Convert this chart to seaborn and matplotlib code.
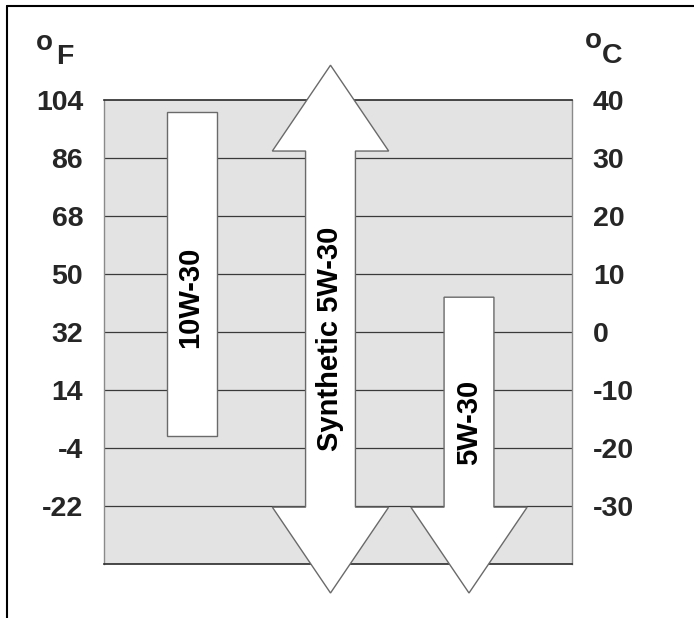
import matplotlib
matplotlib.use("Agg")
import matplotlib.pyplot as plt
from matplotlib.patches import Polygon
from matplotlib.lines import Line2D
import seaborn as sns
import numpy as np

# ---- data ----
oils = ["10W-30", "Synthetic 5W-30", "5W-30"]
low_c = [-18, -45, -45]          # lower usable temperature (deg C)
high_c = [38, 46, 6]             # upper usable temperature (deg C)
open_low = [False, True, True]   # range continues below (arrow head)
open_high = [False, True, False] # range continues above (arrow head)
celsius_ticks = [40, 30, 20, 10, 0, -10, -20, -30]
fahrenheit_labels = ["104", "86", "68", "50", "32", "14", "-4", "-22"]

# ---- styles / layout ----
W, H = 694, 618
sns.set_theme(style="white")
plt.rcParams["font.family"] = ["Liberation Sans", "DejaVu Sans"]
plt.rcParams["font.weight"] = "bold"

fig = plt.figure(figsize=(W / 100, H / 100), dpi=100)
ax_l, ax_r, ax_t, ax_b = 104, 572, 100, 564
ax = fig.add_axes([ax_l / W, 1 - ax_b / H, (ax_r - ax_l) / W, (ax_b - ax_t) / H])
ax.set_facecolor("#e3e3e3")
ax.set_ylim(-40, 40)
px_per_unit = 138.5
ax.set_xlim((ax_l - 192) / px_per_unit, (ax_r - 192) / px_per_unit)

shaft_w = 0.36
head_w = 0.84
head_len = 14.8
edge = "#6a6a6a"
label_y = [6, -1.2, -15.5]
label_dx = [-0.015, 0.0, 0.0]
tick_fs = 20.5
bar_fs = 21

# horizontal grid lines
for c in celsius_ticks[1:]:
    ax.axhline(c, color="#3a3a3a", lw=0.9, zorder=1)

for i, oil in enumerate(oils):
    lo, hi = low_c[i], high_c[i]
    if not open_low[i] and not open_high[i]:
        ax.bar(i, hi - lo, bottom=lo, width=shaft_w, color="white",
               edgecolor=edge, linewidth=1.0, zorder=3)
    else:
        s, h = shaft_w / 2, head_w / 2
        pts = []
        if open_high[i]:
            pts += [(i - s, hi - head_len), (i - h, hi - head_len), (i, hi),
                    (i + h, hi - head_len), (i + s, hi - head_len)]
        else:
            pts += [(i - s, hi), (i + s, hi)]
        if open_low[i]:
            pts += [(i + s, lo + head_len), (i + h, lo + head_len), (i, lo),
                    (i - h, lo + head_len), (i - s, lo + head_len)]
        else:
            pts += [(i + s, lo), (i - s, lo)]
        poly = Polygon(pts, closed=True, facecolor="white", edgecolor=edge,
                       linewidth=1.0, zorder=3, clip_on=False)
        ax.add_patch(poly)
    ax.text(i + label_dx[i], label_y[i], oil, rotation=90, ha="center", va="center",
            fontsize=bar_fs, fontweight="bold", color="black", zorder=4)

# spines
for side in ["top", "bottom"]:
    ax.spines[side].set_color("#2a2a2a")
    ax.spines[side].set_linewidth(1.2)
for side in ["left", "right"]:
    ax.spines[side].set_color("#8a8a8a")
    ax.spines[side].set_linewidth(1.0)
ax.set_xticks([])

ax.set_yticks(celsius_ticks)
ax.set_yticklabels(fahrenheit_labels, fontsize=tick_fs, fontweight="bold")
ax.tick_params(axis="y", length=0, pad=15)

ax2 = ax.twinx()
ax2.set_ylim(ax.get_ylim())
ax2.set_yticks(celsius_ticks)
ax2.set_yticklabels([str(c) for c in celsius_ticks], fontsize=tick_fs, fontweight="bold")
ax2.tick_params(axis="y", length=0, pad=15)
for sp in ax2.spines.values():
    sp.set_visible(False)
ax2.grid(False)
ax.grid(False)

# unit labels (degree sign drawn as a raised bold "o", as in the original)
fig.text(36 / W, 1 - 50 / H, "o", fontsize=20, fontweight="bold", ha="left", va="baseline")
fig.text(56 / W, 1 - 64 / H, "F", fontsize=20.5, fontweight="bold", ha="left", va="baseline")
fig.text(585 / W, 1 - 48 / H, "o", fontsize=20, fontweight="bold", ha="left", va="baseline")
fig.text(602 / W, 1 - 63 / H, "C", fontsize=20.5, fontweight="bold", ha="left", va="baseline")

# outer frame (top and left)
fig.add_artist(Line2D([7 / W, 1], [1 - 6 / H, 1 - 6 / H], transform=fig.transFigure,
                      color="black", lw=1.5))
fig.add_artist(Line2D([7 / W, 7 / W], [1 - 6 / H, 0], transform=fig.transFigure,
                      color="black", lw=1.5))

fig.savefig("out.png", dpi=100)
